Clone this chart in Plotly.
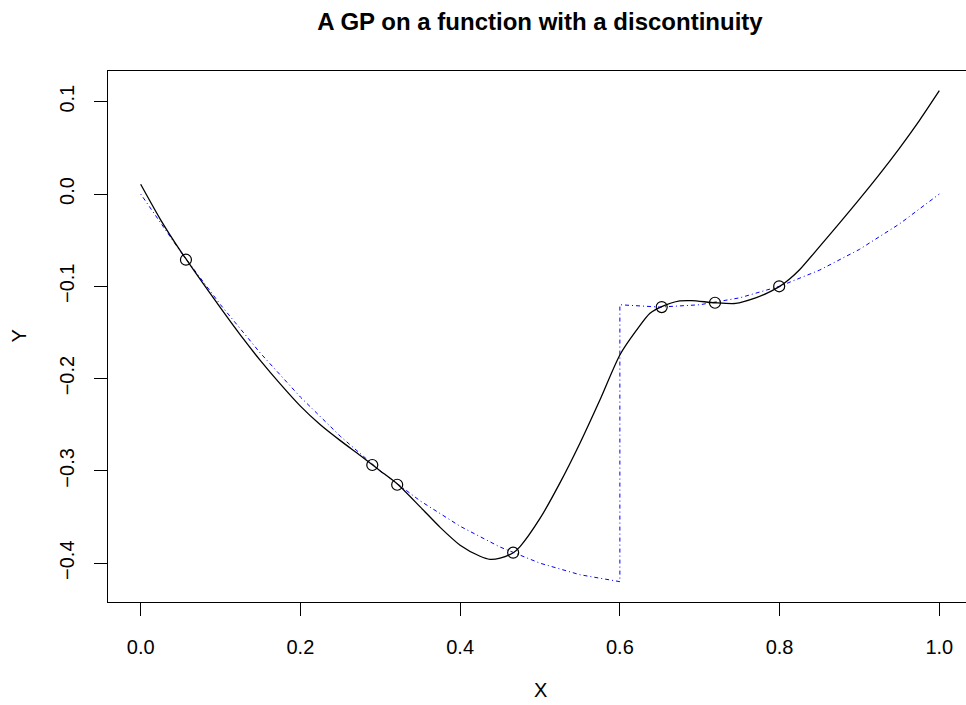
import plotly.graph_objects as go

# GP posterior mean (black solid)
mean_x = [0.0, 0.025, 0.05, 0.0576, 0.075, 0.1, 0.125, 0.15, 0.175, 0.2, 0.225, 0.25,
          0.275, 0.2905, 0.3, 0.3218, 0.35, 0.375, 0.4, 0.425, 0.4374, 0.45, 0.4666,
          0.475, 0.5, 0.525, 0.55, 0.575, 0.6, 0.6211, 0.6377, 0.6524, 0.675, 0.69,
          0.7191, 0.745, 0.77, 0.785, 0.7997, 0.8125, 0.825, 0.85, 0.875, 0.9, 0.925,
          0.95, 0.975, 1.0]
mean_y = [0.0105, -0.0280, -0.0620, -0.0715, -0.0930, -0.1235, -0.1530, -0.1805, -0.2060,
          -0.2298, -0.2500, -0.2672, -0.2833, -0.2936, -0.3000, -0.3145, -0.3390, -0.3612,
          -0.3805, -0.3925, -0.3958, -0.3945, -0.3886, -0.3820, -0.3515, -0.3130, -0.2700,
          -0.2232, -0.1744, -0.1473, -0.1293, -0.1221, -0.1159, -0.1155, -0.1178, -0.1185,
          -0.1125, -0.1071, -0.1004, -0.0921, -0.0821, -0.0570, -0.0315, -0.0055, 0.0213,
          0.0495, 0.0795, 0.1119]

# True function with a jump at 0.6 (blue dot-dash)
true_x = [0.0, 0.05, 0.1, 0.15, 0.2, 0.25, 0.3, 0.35, 0.4, 0.45, 0.5, 0.55, 0.6,
          0.6, 0.65, 0.7, 0.75, 0.8, 0.85, 0.9, 0.95, 1.0]
true_y = [0.0, -0.0625, -0.12, -0.1725, -0.22, -0.2625, -0.30, -0.3325, -0.36, -0.3825,
          -0.40, -0.4125, -0.42,
          -0.12, -0.1225, -0.12, -0.1125, -0.10, -0.0825, -0.06, -0.0325, 0.0]

# Observations (open circles)
obs_x = [0.0567, 0.2900, 0.3212, 0.4664, 0.6524, 0.7191, 0.7995]
obs_y = [-0.0712, -0.2936, -0.3150, -0.3886, -0.1225, -0.1178, -0.1000]

x_ticks = [0.0, 0.2, 0.4, 0.6, 0.8, 1.0]
y_ticks = [-0.4, -0.3, -0.2, -0.1, 0.0, 0.1]

FONT = "Liberation Sans, Arial, Helvetica, sans-serif"

fig = go.Figure()
fig.add_trace(go.Scatter(x=true_x, y=true_y, mode="lines",
                         line=dict(color="#0000ff", width=1, dash="1px,3px,4px,3px"),
                         hoverinfo="skip"))
fig.add_trace(go.Scatter(x=mean_x, y=mean_y, mode="lines",
                         line=dict(color="black", width=1.3, shape="spline", smoothing=0.7),
                         hoverinfo="skip"))
fig.add_trace(go.Scatter(x=obs_x, y=obs_y, mode="markers",
                         marker=dict(symbol="circle-open", size=11, color="black",
                                     line=dict(width=1.2, color="black")),
                         hoverinfo="skip"))

fig.update_layout(
    width=966, height=705,
    margin=dict(l=108, r=0, t=71, b=103),
    paper_bgcolor="white", plot_bgcolor="white",
    showlegend=False,
    font=dict(family=FONT, size=20, color="black"),
    title=dict(text="A GP on a function with a discontinuity",
               font=dict(family=FONT, size=24, color="black", weight="bold"),
               xref="container", x=540 / 966, xanchor="center",
               yref="container", y=1 - 22 / 705, yanchor="middle"),
    xaxis=dict(range=[-0.0409, 1.0334], tickvals=x_ticks,
               ticktext=[f"{v:.1f}" for v in x_ticks],
               ticks="outside", ticklen=13, tickwidth=1, tickcolor="black",
               showline=True, linecolor="black", linewidth=1, mirror=True,
               showgrid=False, zeroline=False, ticklabelstandoff=14,
               tickfont=dict(family=FONT, size=20, color="black")),
    yaxis=dict(range=[-0.44204, 0.13326], tickvals=y_ticks,
               ticktext=[("\u2212" if v < 0 else "") + f"{abs(v):.1f}" for v in y_ticks],
               ticks="outside", ticklen=13, tickwidth=1, tickcolor="black",
               showline=True, linecolor="black", linewidth=1, mirror=False,
               showgrid=False, zeroline=False, tickangle=-90, ticklabelstandoff=12,
               tickfont=dict(family=FONT, size=20, color="black")),
    annotations=[
        dict(text="X", xref="paper", yref="paper", x=(540 - 108) / 858, y=(602 - 690) / 531,
             showarrow=False, xanchor="center", yanchor="middle",
             font=dict(family=FONT, size=20, color="black")),
        dict(text="Y", xref="paper", yref="paper", x=(18 - 108) / 858, y=0.5,
             showarrow=False, xanchor="center", yanchor="middle", textangle=-90,
             font=dict(family=FONT, size=20, color="black")),
    ],
)

fig.write_html("out.html", config={"displayModeBar": False})
